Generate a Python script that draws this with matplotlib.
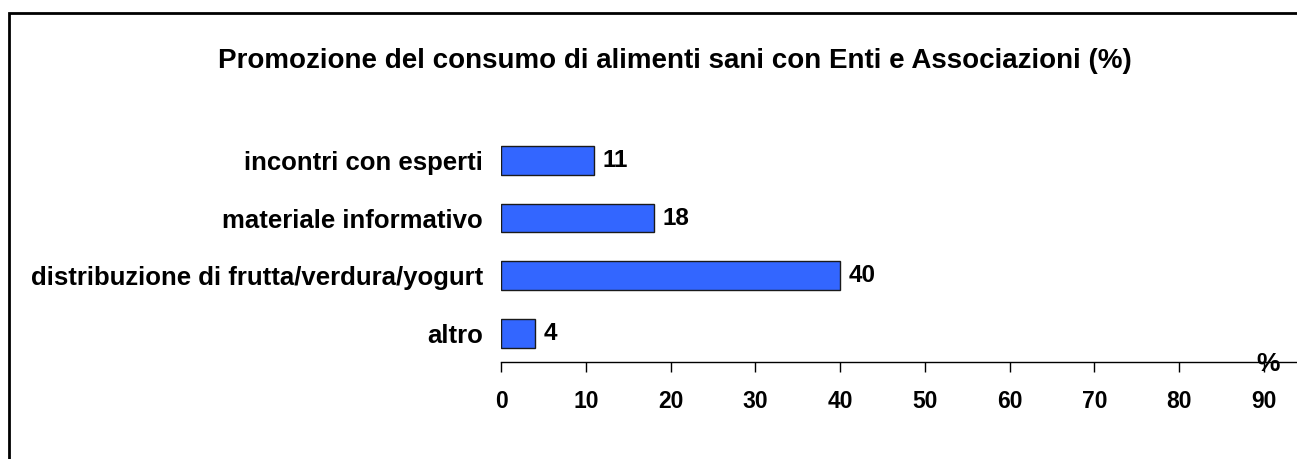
import matplotlib.pyplot as plt
from matplotlib.patches import Rectangle

categories = ['incontri con esperti', 'materiale informativo',
              'distribuzione di frutta/verdura/yogurt', 'altro']
values = [11, 18, 40, 4]
xticks = [0, 10, 20, 30, 40, 50, 60, 70, 80, 90]
title = 'Promozione del consumo di alimenti sani con Enti e Associazioni (%)'

plt.rcParams['font.family'] = ['Liberation Sans', 'DejaVu Sans']
plt.rcParams['font.weight'] = 'bold'

W, H = 1297, 459
fig = plt.figure(figsize=(W / 100, H / 100), dpi=100)

# axes in pixel units: x from 501 to right edge, y from 131.75 to 362
left, right = 501, 1297
top, bottom = 131.75, 362
ax = fig.add_axes([left / W, 1 - bottom / H, (right - left) / W, (bottom - top) / H])

pos = list(range(len(categories)))
ax.barh(pos, values, height=0.5, color='#3366ff', edgecolor='#1a1a1a', linewidth=1)
ax.set_ylim(len(categories) - 0.5, -0.5)
ax.set_xlim(0, 90 * (right - left) / (1264 - left))

for p, v in zip(pos, values):
    ax.text(v + 1.0, p, str(v), va='center', ha='left', fontsize=17.5, fontweight='bold')

ax.set_yticks(pos)
ax.set_yticklabels(categories, fontsize=18.5, fontweight='bold')
ax.tick_params(axis='y', length=0, pad=13)
ax.set_xticks(xticks)
ax.set_xticklabels([str(t) for t in xticks], fontsize=16.5, fontweight='bold')
ax.tick_params(axis='x', length=7, width=1, pad=13, direction='out')

for s in ['top', 'right', 'left']:
    ax.spines[s].set_visible(False)
ax.spines['bottom'].set_linewidth(1)

ax.text(1268 / W, 1 - 364 / H, '%', transform=fig.transFigure, ha='center', va='center',
        fontsize=19, fontweight='bold')

fig.text(675 / W, 1 - 61 / H, title, ha='center', va='center', fontsize=20, fontweight='bold')

# outer frame (only left and top visible)
fig.patches.append(Rectangle((9 / W, -0.1), 1.2, 1 - 13 / H + 0.1, transform=fig.transFigure,
                             fill=False, edgecolor='black', linewidth=2))

fig.savefig('out.png', dpi=100)
